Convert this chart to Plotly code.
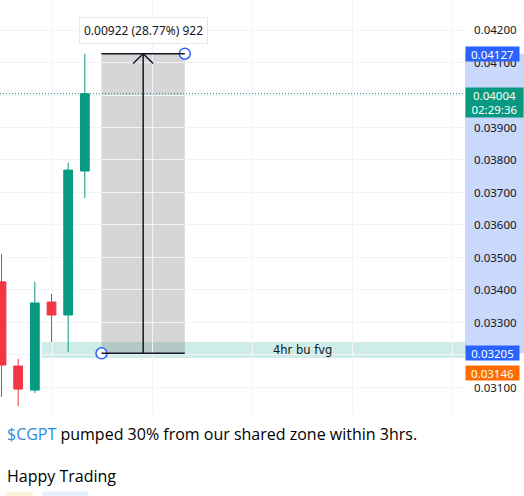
import plotly.graph_objects as go

# candles (bar index, OHLC)
bar_idx = [0, 1, 2, 3, 4, 5]
opens = [0.03425, 0.03166, 0.03092, 0.03363, 0.03323, 0.03766]
highs = [0.03511, 0.03188, 0.03425, 0.03388, 0.03791, 0.04127]
lows = [0.03071, 0.03043, 0.03083, 0.03240, 0.03209, 0.03683]
closes = [0.03169, 0.03095, 0.03360, 0.03323, 0.03769, 0.04004]

# price-range measure tool
measure_x = [6, 11]
measure_y = [0.03205, 0.04127]
measure_text = "0.00922 (28.77%) 922"

# 4hr bullish fvg zone
zone_x = [2.4, 33.7]
zone_y = [0.03191, 0.03240]
zone_text = "4hr bu fvg"

last_price = 0.04004
countdown = "02:29:36"
low_mark = 0.03146
top_tick = 0.04300

GREEN = "#089981"
RED = "#f23645"
BLUE = "#2962ff"
ORANGE = "#ff6d00"

fig = go.Figure()

fig.add_trace(go.Candlestick(
    x=bar_idx, open=opens, high=highs, low=lows, close=closes,
    increasing=dict(fillcolor=GREEN, line=dict(color=GREEN, width=1)),
    decreasing=dict(fillcolor=RED, line=dict(color=RED, width=1)),
    whiskerwidth=0,
    showlegend=False,
    hoverinfo="skip",
))

shapes = []
# fvg zone
shapes.append(dict(type="rect", xref="x", yref="y", x0=zone_x[0], x1=zone_x[1],
                   y0=zone_y[0], y1=zone_y[1], fillcolor="rgba(34,171,148,0.22)",
                   line=dict(width=0), layer="below"))
# measure box
shapes.append(dict(type="rect", xref="x", yref="y", x0=measure_x[0], x1=measure_x[1],
                   y0=measure_y[0], y1=measure_y[1], fillcolor="rgba(120,120,120,0.30)",
                   line=dict(width=0), layer="below"))
for yv in measure_y:
    shapes.append(dict(type="line", xref="x", yref="y", x0=measure_x[0], x1=measure_x[1],
                       y0=yv, y1=yv, line=dict(color="#131722", width=1.5)))
mid_x = (measure_x[0] + measure_x[1]) / 2
shapes.append(dict(type="line", xref="x", yref="y", x0=mid_x, x1=mid_x,
                   y0=measure_y[0], y1=measure_y[1], line=dict(color="#131722", width=1.5)))
# arrow head
head_dx, head_dy = 0.6, 0.0003
shapes.append(dict(type="path", xref="x", yref="y",
                   path=f"M {mid_x - head_dx},{measure_y[1] - head_dy} L {mid_x},{measure_y[1]} "
                        f"L {mid_x + head_dx},{measure_y[1] - head_dy}",
                   line=dict(color="#131722", width=1.5)))
# last price dotted line
shapes.append(dict(type="line", xref="paper", yref="y", x0=0, x1=1, y0=last_price, y1=last_price,
                   line=dict(color=GREEN, width=1, dash="1px,2px")))
# highlighted range on price scale
shapes.append(dict(type="rect", xref="paper", yref="y", x0=1, x1=1.13,
                   y0=measure_y[0], y1=measure_y[1], fillcolor="#c9d8fb",
                   line=dict(width=0), layer="below"))
# reaction pills under the message
shapes.append(dict(type="rect", xref="paper", yref="paper", x0=0.011, x1=0.071,
                   y0=-0.235, y1=-0.19, fillcolor="#fdf4de", line=dict(width=0)))
shapes.append(dict(type="rect", xref="paper", yref="paper", x0=0.092, x1=0.19,
                   y0=-0.235, y1=-0.19, fillcolor="#e5f2fc", line=dict(width=0)))

# measure handles
fig.add_trace(go.Scatter(
    x=[measure_x[1], measure_x[0]], y=[measure_y[1], measure_y[0]],
    mode="markers",
    marker=dict(size=11, color="white", line=dict(color=BLUE, width=1.5)),
    showlegend=False, hoverinfo="skip", cliponaxis=False,
))

scale_font = dict(family="Noto Sans", size=11.5, color="white")
annotations = [
    dict(x=mid_x, y=measure_y[1], xref="x", yref="y", text=measure_text, showarrow=False,
         yanchor="bottom", yshift=10, bgcolor="white", bordercolor="#e6e8ee", borderwidth=1,
         borderpad=4, font=dict(size=12, color="#131722")),
    dict(x=(zone_x[0] + zone_x[1]) / 2, y=sum(zone_y) / 2, xref="x", yref="y",
         text=zone_text, showarrow=False, font=dict(family="DejaVu Sans", size=11.5, color="#131722")),
    dict(x=1, y=top_tick, xref="paper", yref="y", text=f"{top_tick:.5f}", showarrow=False,
         xanchor="left", xshift=6, font=dict(size=11.5, color="#131722")),
    dict(x=1, y=measure_y[1], xref="paper", yref="y", text=f"{measure_y[1]:.5f}",
         showarrow=False, xanchor="left", bgcolor=BLUE, width=53, height=14, borderpad=0,
         font=scale_font),
    dict(x=1, y=last_price, xref="paper", yref="y", text=f"{last_price:.5f}<br>{countdown}",
         showarrow=False, xanchor="left", yanchor="top", yshift=7, bgcolor=GREEN,
         width=57, height=29, borderpad=0, font=scale_font),
    dict(x=1, y=measure_y[0], xref="paper", yref="y", text=f"{measure_y[0]:.5f}",
         showarrow=False, xanchor="left", bgcolor=BLUE, width=53, height=14, borderpad=0,
         font=scale_font),
    dict(x=1, y=low_mark, xref="paper", yref="y", text=f"{low_mark:.5f}",
         showarrow=False, xanchor="left", bgcolor=ORANGE, width=53, height=14, borderpad=0,
         font=scale_font),
    dict(x=0.01, y=-0.019, xref="paper", yref="paper", xanchor="left", yanchor="top",
         showarrow=False,
         text='<span style="color:#2f8ad8">$CGPT</span> pumped 30% from our shared zone within 3hrs.',
         font=dict(family="Open Sans", size=16, color="#000000", weight=500)),
    dict(x=0.01, y=-0.12, xref="paper", yref="paper", xanchor="left", yanchor="top",
         showarrow=False, text="Happy Trading",
         font=dict(family="Open Sans", size=16, color="#000000", weight=500)),
]

fig.update_layout(
    width=524, height=496,
    margin=dict(l=0, r=59, t=0, b=83, autoexpand=False),
    paper_bgcolor="white", plot_bgcolor="white",
    font=dict(family="Noto Sans", size=11.5, color="#131722"),
    boxgap=0.25,
    shapes=shapes, annotations=annotations,
    xaxis=dict(range=[-0.09, 27.81], rangeslider=dict(visible=False), showticklabels=False,
               tick0=3.03, dtick=6, gridcolor="#f0f3fa", zeroline=False, showline=False),
    yaxis=dict(range=[0.030215, 0.042923], side="right", dtick=0.001, tick0=0,
               tickformat=".5f", gridcolor="#f0f3fa", zeroline=False, showline=False,
               ticks="", ticklabelstandoff=8),
)

# page body has a default margin; drop it so the figure sits at the window corner
fig.write_html("out.html", config={"displayModeBar": False},
               post_script="document.body.style.margin='0';document.body.style.overflow='hidden';")
